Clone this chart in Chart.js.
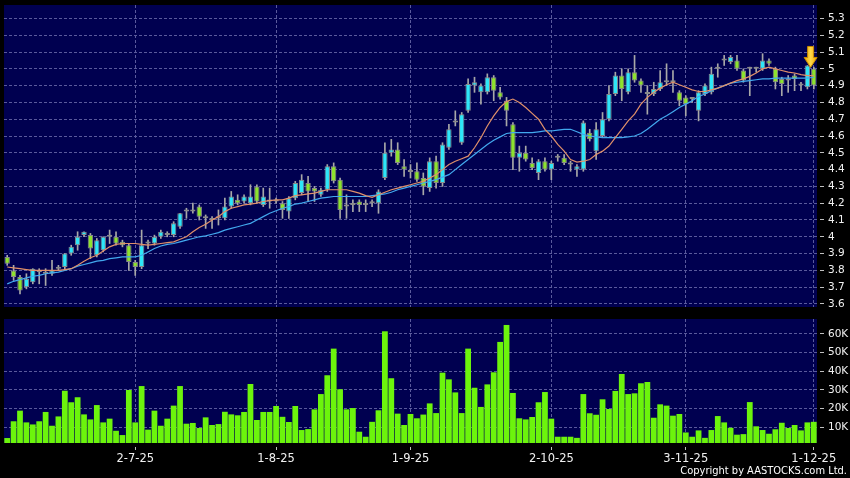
<!DOCTYPE html>
<html><head><meta charset="utf-8">
<script src="https://cdn.jsdelivr.net/npm/chart.js@4/dist/chart.umd.min.js"></script>
<style>
html,body{margin:0;padding:0;background:#000;width:850px;height:478px;overflow:hidden;}
#c1{position:absolute;left:0;top:0;}
#c2{position:absolute;left:0;top:312px;}
#copy{position:absolute;right:3px;top:464px;line-height:13px;color:#fff;font-size:11px;font-family:"DejaVu Sans Condensed","DejaVu Sans",sans-serif;white-space:nowrap;}
</style></head>
<body>
<canvas id="c1" width="850" height="310"></canvas>
<canvas id="c2" width="850" height="166"></canvas>
<div id="copy">Copyright by AASTOCKS.com Ltd.</div>
<script>
const OPEN = [3.88,3.80,3.76,3.70,3.73,3.80,3.78,3.78,3.81,3.82,
3.90,3.95,4.01,4.01,3.89,3.92,4.00,4.00,3.97,3.95,
3.85,3.82,3.96,3.96,4.00,4.02,4.01,4.06,4.15,4.15,
4.18,4.11,4.11,4.11,4.11,4.18,4.22,4.21,4.20,4.30,
4.19,4.21,4.22,4.20,4.15,4.23,4.26,4.32,4.29,4.25,
4.28,4.42,4.34,4.18,4.19,4.21,4.19,4.20,4.20,4.35,
4.50,4.52,4.42,4.385,4.39,4.35,4.29,4.45,4.32,4.53,
4.68,4.56,4.75,4.90,4.86,4.86,4.95,4.86,4.81,4.67,
4.47,4.50,4.44,4.38,4.45,4.40,4.47,4.47,4.43,4.40,
4.40,4.62,4.51,4.60,4.70,4.85,4.96,4.86,4.98,4.93,
4.85,4.85,4.88,4.92,4.92,4.86,4.83,4.82,4.75,4.85,
4.86,5.00,5.05,5.04,5.05,4.99,5.00,5.00,5.00,5.05,
5.00,4.94,4.93,4.96,4.90,4.89,5.00];
const HIGH = [3.89,3.83,3.77,3.78,3.81,3.81,3.81,3.86,3.83,3.90,
3.95,4.03,4.03,4.02,3.99,4.00,4.04,4.03,3.98,3.96,
3.86,4.04,3.98,4.01,4.04,4.03,4.09,4.14,4.17,4.20,
4.19,4.13,4.12,4.16,4.23,4.27,4.25,4.25,4.31,4.31,
4.29,4.29,4.23,4.21,4.24,4.33,4.37,4.36,4.30,4.29,
4.43,4.44,4.35,4.25,4.22,4.22,4.22,4.22,4.28,4.56,
4.58,4.56,4.46,4.43,4.44,4.38,4.47,4.48,4.56,4.67,
4.75,4.74,4.94,4.95,4.91,4.97,4.96,4.89,4.83,4.68,
4.54,4.54,4.47,4.46,4.47,4.45,4.49,4.49,4.45,4.43,
4.69,4.64,4.68,4.74,4.90,4.98,5.00,5.00,5.08,4.94,
4.90,4.92,4.99,5.03,4.99,4.87,4.84,4.83,4.87,4.91,
5.01,5.03,5.08,5.08,5.08,5.00,5.01,5.01,5.09,5.06,
5.01,4.95,4.96,4.97,4.92,5.02,5.01];
const LOW = [3.83,3.74,3.66,3.69,3.72,3.72,3.71,3.77,3.80,3.81,
3.89,3.92,4.00,3.87,3.88,3.91,3.96,3.95,3.94,3.80,
3.77,3.81,3.93,3.95,3.99,4.00,4.00,4.05,4.11,4.14,
4.10,4.05,4.05,4.07,4.10,4.17,4.19,4.20,4.19,4.20,
4.18,4.17,4.20,4.11,4.11,4.22,4.25,4.21,4.21,4.24,
4.27,4.32,4.11,4.11,4.15,4.15,4.15,4.18,4.14,4.34,
4.48,4.43,4.36,4.35,4.33,4.25,4.27,4.29,4.30,4.52,
4.66,4.55,4.74,4.86,4.79,4.85,4.81,4.82,4.66,4.40,
4.39,4.45,4.40,4.34,4.39,4.34,4.45,4.43,4.39,4.36,
4.39,4.57,4.46,4.59,4.69,4.84,4.81,4.85,4.92,4.86,
4.73,4.84,4.87,4.90,4.86,4.78,4.72,4.80,4.69,4.84,
4.85,4.95,5.02,5.03,4.99,4.92,4.84,4.98,4.99,5.02,
4.88,4.84,4.86,4.87,4.87,4.88,4.88];
const CLOSE = [3.84,3.76,3.68,3.75,3.81,3.79,3.78,3.80,3.82,3.90,
3.94,4.00,4.03,3.93,3.98,4.00,4.01,3.96,3.95,3.85,
3.82,3.95,3.96,4.00,4.03,4.01,4.08,4.14,4.15,4.16,
4.12,4.11,4.10,4.12,4.18,4.24,4.20,4.24,4.24,4.21,
4.24,4.22,4.21,4.16,4.23,4.32,4.34,4.27,4.27,4.28,
4.42,4.33,4.16,4.18,4.19,4.19,4.19,4.21,4.27,4.50,
4.52,4.44,4.40,4.385,4.34,4.30,4.45,4.32,4.55,4.64,
4.68,4.73,4.91,4.92,4.90,4.95,4.87,4.83,4.75,4.47,
4.50,4.46,4.41,4.45,4.40,4.44,4.47,4.44,4.43,4.42,
4.68,4.58,4.64,4.70,4.85,4.96,4.88,4.98,4.93,4.90,
4.85,4.88,4.92,4.92,4.92,4.81,4.79,4.82,4.86,4.90,
4.97,5.00,5.05,5.07,5.00,4.93,5.00,5.00,5.05,5.03,
4.92,4.91,4.93,4.94,4.91,5.02,4.90];
const MA_SHORT = [3.82,3.815,3.81,3.805,3.80,3.80,3.80,3.80,3.80,3.805,
3.81,3.83,3.855,3.875,3.89,3.915,3.94,3.955,3.96,3.96,
3.96,3.955,3.95,3.955,3.96,3.965,3.97,3.985,4.00,4.03,
4.055,4.075,4.10,4.12,4.15,4.17,4.18,4.19,4.195,4.20,
4.21,4.215,4.22,4.22,4.23,4.245,4.25,4.255,4.26,4.27,
4.28,4.28,4.28,4.28,4.27,4.26,4.245,4.235,4.25,4.265,
4.28,4.29,4.30,4.31,4.32,4.33,4.35,4.37,4.40,4.43,
4.45,4.465,4.48,4.53,4.59,4.66,4.72,4.77,4.805,4.82,
4.80,4.77,4.735,4.70,4.64,4.60,4.55,4.51,4.46,4.445,
4.45,4.46,4.49,4.51,4.54,4.59,4.64,4.69,4.73,4.79,
4.83,4.86,4.885,4.905,4.92,4.905,4.89,4.875,4.865,4.865,
4.875,4.885,4.90,4.915,4.93,4.94,4.955,4.975,5.00,5.01,
5.00,4.99,4.98,4.975,4.965,4.96,4.96];
const MA_LONG = [3.72,3.735,3.745,3.755,3.765,3.77,3.78,3.785,3.79,3.80,
3.81,3.825,3.835,3.845,3.855,3.86,3.87,3.875,3.88,3.88,
3.88,3.89,3.91,3.93,3.945,3.955,3.96,3.97,3.98,3.99,
4.00,4.005,4.015,4.025,4.04,4.05,4.06,4.07,4.08,4.10,
4.12,4.14,4.155,4.17,4.18,4.195,4.20,4.21,4.22,4.23,
4.235,4.24,4.24,4.24,4.24,4.24,4.24,4.245,4.25,4.255,
4.265,4.28,4.29,4.30,4.31,4.32,4.33,4.34,4.355,4.37,
4.40,4.43,4.46,4.49,4.52,4.55,4.575,4.595,4.615,4.62,
4.62,4.62,4.62,4.625,4.63,4.63,4.635,4.64,4.64,4.625,
4.61,4.60,4.595,4.59,4.59,4.59,4.59,4.595,4.60,4.615,
4.64,4.67,4.70,4.72,4.745,4.77,4.79,4.81,4.835,4.85,
4.87,4.885,4.90,4.915,4.92,4.925,4.93,4.935,4.94,4.94,
4.945,4.945,4.945,4.945,4.945,4.945,4.95];
const VOLUME = [4100,13100,18800,12500,11400,13100,18100,10700,15700,29500,
23300,26000,16800,14100,21800,12500,14500,8000,5700,29900,
12500,32000,8600,18800,10700,14500,21500,32000,11800,12200,
9500,15200,11100,11600,18200,16800,16300,18100,33100,13800,
18100,18100,21300,15500,12700,21300,8400,8900,19500,27700,
37800,52100,30300,19500,20200,7500,4800,12800,19000,61400,
36200,17200,11100,17000,14700,16700,22700,17500,39200,35600,
28600,17500,52100,31100,20800,32900,39400,55700,64800,28300,
14700,14100,15400,23300,28800,14500,4800,4800,4800,4200,
27700,17400,16600,24900,19700,29400,38500,27700,28100,33500,
34200,15000,22200,21500,16100,17000,7100,4800,8200,4200,
8400,15900,12500,9600,5900,6200,23400,10400,8400,6400,
8800,12300,9500,11100,8200,12500,12800];
const X_TICK_INDEX = [20,42,63,85,106,126];
const X_TICK_LABELS = ['2-7-25','1-8-25','1-9-25','2-10-25','3-11-25','1-12-25'];
const PRICE_TICKS = [3.6,3.7,3.8,3.9,4.0,4.1,4.2,4.3,4.4,4.5,4.6,4.7,4.8,4.9,5.0,5.1,5.2,5.3];
const VOLUME_TICKS = [10000,20000,30000,40000,50000,60000];

const CATEGORIES = OPEN.map((_, i) => String(i));
const NAVY = '#000050', GRID = '#5a5a9c', TXT = '#f0f0f0';
const UP = '#2ee6f8', DOWN = '#8ee22e', DOJI = '#9a9a9a', EDGE = '#8a8a8a', WICK = '#a8a8a8';
const VOL_FILL = '#6cf40c';

const areaBg = {id:'areaBg', beforeDraw(c){const a=c.chartArea,x=c.ctx;x.save();x.fillStyle=NAVY;x.fillRect(a.left,a.top,a.right-a.left,a.bottom-a.top);x.restore();}};
const arrow = {id:'arrow', afterDatasetsDraw(c){
  const xs=c.scales.x, ys=c.scales.y, ctx=c.ctx, n=CLOSE.length;
  const x=(xs.getPixelForValue(n-2)+xs.getPixelForValue(n-1))/2;
  const tip=ys.getPixelForValue(Math.max(HIGH[n-2],HIGH[n-1]))+2;
  ctx.save();
  ctx.beginPath();
  ctx.moveTo(x-3,tip-21);ctx.lineTo(x+3,tip-21);ctx.lineTo(x+3,tip-10);ctx.lineTo(x+6.5,tip-10);
  ctx.lineTo(x,tip);ctx.lineTo(x-6.5,tip-10);ctx.lineTo(x-3,tip-10);ctx.closePath();
  const g=ctx.createLinearGradient(x-6,0,x+6,0);g.addColorStop(0,'#f0a800');g.addColorStop(0.5,'#ffd84a');g.addColorStop(1,'#f0a800');
  ctx.fillStyle=g;ctx.fill();ctx.strokeStyle='#c88a00';ctx.lineWidth=1;ctx.stroke();
  ctx.restore();
}};

function xScale(showLabels){
  return {
    type:'category', offset:true,
    afterBuildTicks: s => { s.ticks = X_TICK_INDEX.map(v => ({value:v})); },
    ticks:{display:showLabels, autoSkip:false, maxRotation:0, minRotation:0, color:TXT, padding:2,
      font:{family:'DejaVu Sans', size:11.5}, callback:(v,i) => X_TICK_LABELS[i]},
    grid:{offset:false, color:GRID, lineWidth:1, drawTicks:showLabels, tickLength:7, tickColor:'#c0c0c0', tickBorderDash:[0,4,3,30]},
    border:{display:false, dash:[3,2]},
    afterFit: s => { s.height = showLabels ? 35 : 0; s.paddingLeft=0; s.paddingRight=0; }
  };
}
function yScale(min,max,ticks,fmt){
  return {
    position:'right', min:min, max:max,
    afterBuildTicks: s => { s.ticks = ticks.map(v => ({value:v})); },
    ticks:{color:TXT, padding:4, font:{family:'DejaVu Sans', size:10.5}, callback: fmt},
    grid:{color:GRID, lineWidth:1, tickLength:7, tickColor:'#c0c0c0', tickBorderDash:[0,3,4,30]},
    border:{display:false, dash:[3,2]},
    afterFit: s => { s.width=33; s.paddingTop=0; s.paddingBottom=0; }
  };
}
const common = {responsive:false, animation:false, events:[],
  plugins:{legend:{display:false}, tooltip:{enabled:false}}};

new Chart(document.getElementById('c1'), {
  data:{labels:CATEGORIES, datasets:[
    {type:'bar', data:LOW.map((l,i)=>[l,HIGH[i]]), backgroundColor:WICK, barThickness:1, grouped:false, order:3},
    {type:'bar', data:OPEN.map((o,i)=>[o,CLOSE[i]]),
      backgroundColor:OPEN.map((o,i)=>CLOSE[i]>o?UP:(CLOSE[i]<o?DOWN:DOJI)),
      borderColor:EDGE, borderWidth:1, borderSkipped:false, barPercentage:0.84, categoryPercentage:1,
      minBarLength:2, grouped:false, order:2},
    {type:'line', data:MA_SHORT, borderColor:'#e0906a', borderWidth:1.2, pointRadius:0, tension:0, order:1},
    {type:'line', data:MA_LONG, borderColor:'#42a8ee', borderWidth:1.2, pointRadius:0, tension:0, order:1}
  ]},
  options:Object.assign({}, common, {
    layout:{padding:{left:4, top:5, right:0, bottom:3}},
    scales:{x:xScale(false), y:yScale(3.582, 5.38, PRICE_TICKS, v => String(+v.toFixed(2)))}
  }),
  plugins:[areaBg, arrow]
});

new Chart(document.getElementById('c2'), {
  data:{labels:CATEGORIES, datasets:[
    {type:'bar', data:VOLUME, backgroundColor:VOL_FILL, borderColor:'#3c8a06', borderWidth:0,
      barPercentage:0.9, categoryPercentage:1}
  ]},
  options:Object.assign({}, common, {
    layout:{padding:{left:4, top:7, right:0, bottom:0}},
    scales:{x:xScale(true), y:yScale(1440, 68000, VOLUME_TICKS, v => (v/1000)+'K')}
  }),
  plugins:[areaBg]
});
</script>
</body></html>
